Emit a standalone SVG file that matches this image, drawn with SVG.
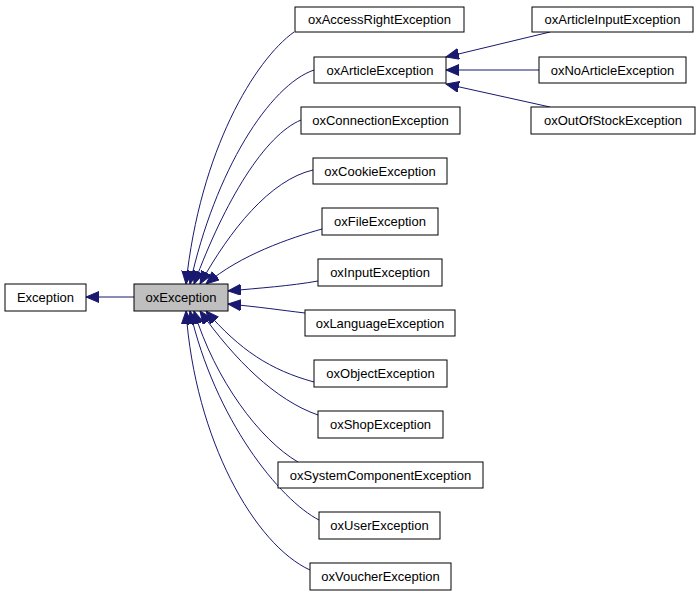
<svg xmlns="http://www.w3.org/2000/svg" width="696" height="595" viewBox="0 0 696 595">
<style>
.n rect{fill:#fff;stroke:#000;stroke-width:1}
.n text{font-family:"Liberation Sans",Arial,sans-serif;font-size:13px;text-anchor:middle;fill:#000}
#edges path{fill:none;stroke:#191970;stroke-width:1}
</style>
<defs>
<marker id="a" markerUnits="userSpaceOnUse" markerWidth="14" markerHeight="12" refX="13" refY="5.5" orient="auto">
<path d="M0,0 L13,5.5 L0,11 Z" fill="#191970" stroke="#191970"/>
</marker>
</defs>
<rect width="696" height="595" fill="#fff"/>
<g id="edges">
<path marker-end="url(#a)" d="M134,297 L86,297"/>
<path marker-end="url(#a)" d="M294,32 C255,60 200,150 186,284"/>
<path marker-end="url(#a)" d="M314,70 C270,85 215,170 190,284"/>
<path marker-end="url(#a)" d="M301,120 C265,135 225,200 194,284"/>
<path marker-end="url(#a)" d="M313,170 C270,180 230,230 200,284"/>
<path marker-end="url(#a)" d="M322,229 C290,238 240,255 206,284"/>
<path marker-end="url(#a)" d="M318,281 C290,286 260,288 228,291"/>
<path marker-end="url(#a)" d="M305,313 C280,310 260,307 228,304"/>
<path marker-end="url(#a)" d="M314,382 C270,370 240,350 206,311"/>
<path marker-end="url(#a)" d="M318,415 C275,400 235,360 200,311"/>
<path marker-end="url(#a)" d="M298,462 C260,440 215,380 194,311"/>
<path marker-end="url(#a)" d="M319,520 C280,500 215,420 190,311"/>
<path marker-end="url(#a)" d="M310,570 C255,545 195,440 186,311"/>
<path marker-end="url(#a)" d="M550,32 L446,57"/>
<path marker-end="url(#a)" d="M539,70 L446,70"/>
<path marker-end="url(#a)" d="M550,107 L446,84"/>
</g>
<g id="Exception" class="n"><rect x="5" y="284" width="81" height="27"/><text x="45.5" y="302">Exception</text></g>
<g id="oxException" class="n"><rect x="134" y="284" width="94" height="27" style="fill:#bfbfbf"/><text x="181" y="302">oxException</text></g>
<g id="oxAccessRightException" class="n"><rect x="295" y="7" width="169" height="25"/><text x="379.5" y="24">oxAccessRightException</text></g>
<g id="oxArticleException" class="n"><rect x="314" y="57" width="132" height="26"/><text x="380" y="75">oxArticleException</text></g>
<g id="oxConnectionException" class="n"><rect x="301" y="107" width="159" height="27"/><text x="380.5" y="125">oxConnectionException</text></g>
<g id="oxCookieException" class="n"><rect x="313" y="158" width="134" height="26"/><text x="380" y="176">oxCookieException</text></g>
<g id="oxFileException" class="n"><rect x="322" y="208" width="116" height="27"/><text x="380" y="226">oxFileException</text></g>
<g id="oxInputException" class="n"><rect x="318" y="259" width="124" height="27"/><text x="380" y="277">oxInputException</text></g>
<g id="oxLanguageException" class="n"><rect x="305" y="310" width="150" height="26"/><text x="380" y="328">oxLanguageException</text></g>
<g id="oxObjectException" class="n"><rect x="314" y="360" width="133" height="27"/><text x="380.5" y="378">oxObjectException</text></g>
<g id="oxShopException" class="n"><rect x="318" y="411" width="125" height="27"/><text x="380.5" y="429">oxShopException</text></g>
<g id="oxSystemComponentException" class="n"><rect x="278" y="462" width="205" height="26"/><text x="380.5" y="480">oxSystemComponentException</text></g>
<g id="oxUserException" class="n"><rect x="319" y="512" width="121" height="27"/><text x="379.5" y="530">oxUserException</text></g>
<g id="oxVoucherException" class="n"><rect x="310" y="563" width="141" height="27"/><text x="380.5" y="581">oxVoucherException</text></g>
<g id="oxArticleInputException" class="n"><rect x="532" y="7" width="161" height="25"/><text x="612.5" y="24">oxArticleInputException</text></g>
<g id="oxNoArticleException" class="n"><rect x="539" y="57" width="147" height="26"/><text x="612.5" y="75">oxNoArticleException</text></g>
<g id="oxOutOfStockException" class="n"><rect x="531" y="107" width="164" height="27"/><text x="613" y="125">oxOutOfStockException</text></g>
</svg>
